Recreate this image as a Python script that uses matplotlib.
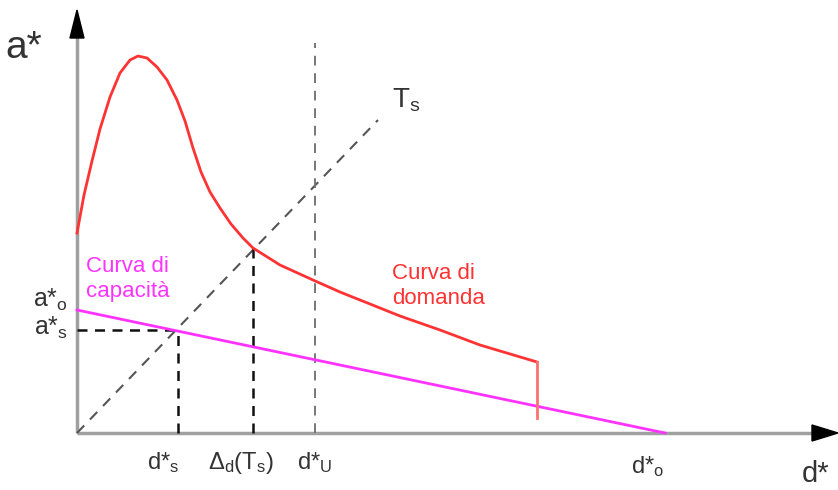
import matplotlib.pyplot as plt
import numpy as np

plt.rcParams['font.family'] = ['Liberation Sans', 'DejaVu Sans']
plt.rcParams['mathtext.fontset'] = 'custom'
plt.rcParams['mathtext.rm'] = 'Liberation Sans'
plt.rcParams['mathtext.it'] = 'Liberation Sans'

# Demand curve (spectrum in ADRS format), d* vs a*
demand_d = [0.00, 0.07, 0.15, 0.23, 0.33, 0.43, 0.53, 0.61, 0.70, 0.80, 0.90,
            1.00, 1.08, 1.16, 1.24, 1.33, 1.43, 1.54, 1.66, 1.76, 2.03, 2.36,
            2.63, 3.23, 3.63, 4.03, 4.60]
demand_a = [2.00, 2.38, 2.72, 3.04, 3.36, 3.60, 3.73, 3.77, 3.75, 3.66, 3.53,
            3.33, 3.12, 2.85, 2.61, 2.41, 2.25, 2.09, 1.95, 1.85, 1.68, 1.53,
            1.41, 1.17, 1.03, 0.88, 0.71]
demand_cut = 0.15          # bottom of the vertical drop at the end of the curve

# Capacity curve (bilinear, descending branch)
capacity_d = [0.00, 5.88]
capacity_a = [1.23, 0.00]

# Period line T_s through the origin
period_d = [0.00, 3.01]
period_a = [0.00, 3.13]

d_s, a_s = 1.01, 1.03      # performance point on the capacity curve
delta_d, delta_a = 1.76, 1.85   # demand displacement at T_s
d_u, d_u_top = 2.38, 3.90
d_0 = 5.88
a_0 = 1.23

fig = plt.figure(figsize=(8.38, 4.90), dpi=100)
ax = fig.add_axes([0, 0, 1, 1])
ax.set_xlim(-0.77, 7.61)
ax.set_ylim(-0.57, 4.33)
ax.axis('off')

# axes with arrow heads
x_end, y_end = 7.61, 4.23
ax.plot([0, x_end - 0.2], [0, 0], color='#a0a0a0', lw=2.5, solid_capstyle='butt', zorder=1)
ax.plot([0, 0], [0, y_end - 0.2], color='#a0a0a0', lw=2.5, solid_capstyle='butt', zorder=1)
ax.fill([x_end, x_end - 0.26, x_end - 0.26], [0, 0.08, -0.08], color='black', zorder=2)
ax.fill([0, -0.07, 0.07], [y_end, y_end - 0.28, y_end - 0.28], color='black', zorder=2)

# dashed guide lines
ax.plot(period_d, period_a, color='#555555', lw=1.5, dashes=(5, 4), zorder=2)
ax.plot([d_u, d_u], [0, d_u_top], color='#777777', lw=1.4, dashes=(5, 4), zorder=2)
ax.plot([0, d_s], [a_s, a_s], color='#111111', lw=1.8, dashes=(4, 3), zorder=3)
ax.plot([d_s, d_s], [0, a_s], color='#111111', lw=1.8, dashes=(4, 3), zorder=3)
ax.plot([delta_d, delta_d], [0, delta_a], color='#111111', lw=1.8, dashes=(4, 3), zorder=3)

# curves
ax.plot(capacity_d, capacity_a, color='#ff33ff', lw=2, zorder=4)
ax.plot(demand_d, demand_a, color='#ff3333', lw=2, solid_joinstyle='round', zorder=4)
ax.plot([demand_d[-1], demand_d[-1]], [demand_a[-1], demand_cut], color='#ff7070', lw=2, zorder=4)

# labels
txt = '#333333'
ax.text(-0.72, 3.75, 'a*', fontsize=28, color=txt, va='baseline')
ax.text(-0.09, a_0 + 0.1, r'a*$_\mathrm{o}$', fontsize=18, color=txt, ha='right', va='center')
ax.text(-0.09, a_s + 0.02, r'a*$_\mathrm{s}$', fontsize=18, color=txt, ha='right', va='center')
ax.text(d_s - 0.15, -0.30, r'd*$_\mathrm{s}$', fontsize=17, color=txt, ha='center', va='center')
ax.text(delta_d - 0.12, -0.30, r'$\Delta_\mathrm{d}$(T$_\mathrm{s}$)', fontsize=17, color=txt,
        ha='center', va='center')
ax.text(d_u + 0.0, -0.30, r'd*$_\mathrm{U}$', fontsize=17, color=txt, ha='center', va='center')
ax.text(d_0 - 0.17, -0.34, r'd*$_\mathrm{o}$', fontsize=17, color=txt, ha='center', va='center')
ax.text(7.25, -0.41, 'd*', fontsize=21, color=txt, ha='left', va='center')
ax.text(3.15, 3.33, r'T$_\mathrm{s}$', fontsize=20, color=txt, ha='left', va='center')

ax.text(0.09, 1.54, 'Curva di\ncapacità', fontsize=16, color='#ff33ff', ha='left', va='center',
        linespacing=1.2)
ax.text(3.15, 1.47, 'Curva di\ndomanda', fontsize=16, color='#ff3333', ha='left', va='center',
        linespacing=1.2)

fig.savefig('out.png', dpi=100)
